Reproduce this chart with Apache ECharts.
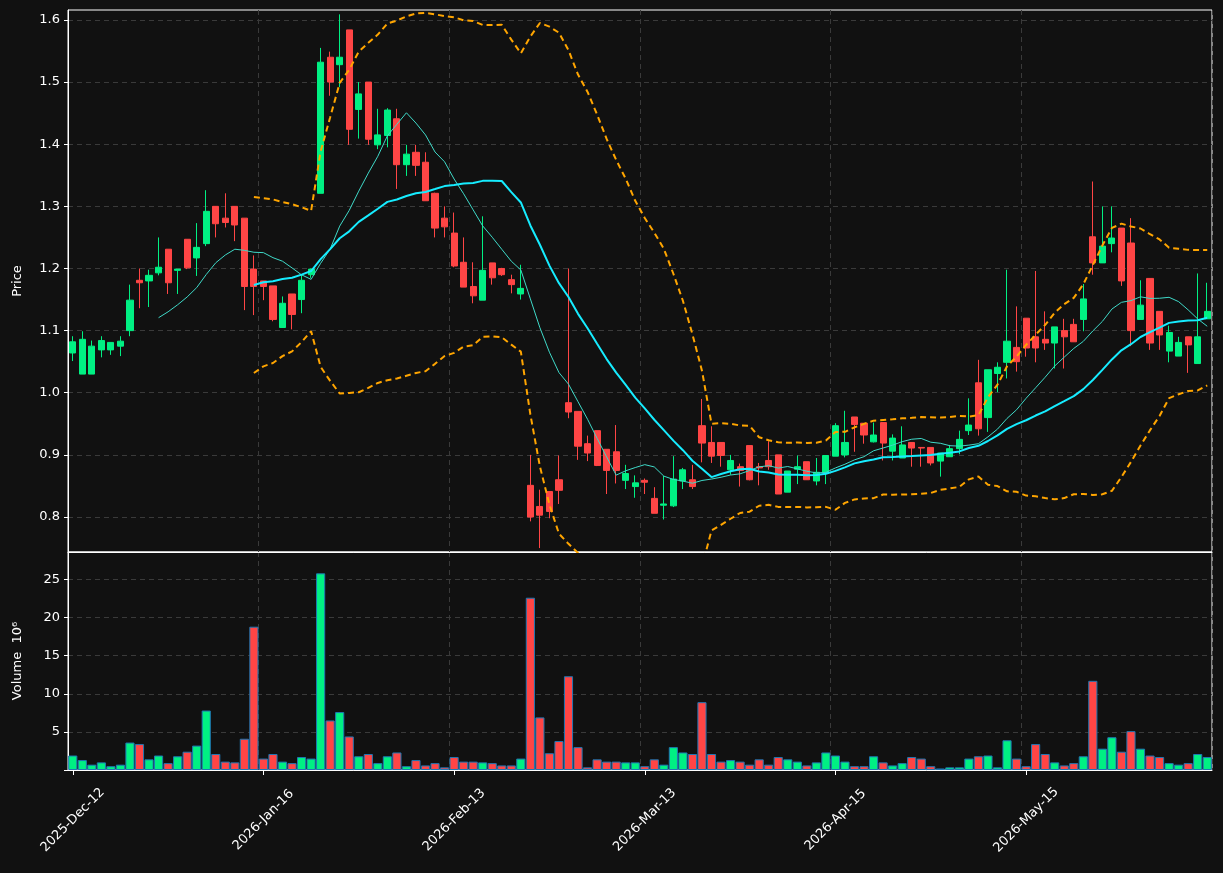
<!DOCTYPE html>
<html>
<head>
<meta charset="utf-8">
<script src="https://cdn.jsdelivr.net/npm/echarts@6/dist/echarts.min.js"></script>
<style>
  html, body { margin: 0; padding: 0; background: #111111; }
  #chart { width: 1223px; height: 873px; }
</style>
</head>
<body>
<div id="chart"></div>
<script>
// tick labels every 20 bars
const tickLabels = ['2025-Dec-12', '2026-Jan-16', '2026-Feb-13', '2026-Mar-13', '2026-Apr-15', '2026-May-15']
const tickStep = 20
const priceTicks = [0.8, 0.9, 1.0, 1.1, 1.2, 1.3, 1.4, 1.5, 1.6]

// OHLC, one row per bar
const opens = [
  1.064, 1.030, 1.030, 1.069, 1.069, 1.075, 1.100, 1.181, 1.180, 1.193,
  1.231, 1.197, 1.247, 1.217, 1.240, 1.300, 1.281, 1.300, 1.281, 1.199,
  1.180, 1.172, 1.105, 1.159, 1.150, 1.190, 1.321, 1.540, 1.528, 1.584,
  1.456, 1.500, 1.399, 1.414, 1.441, 1.367, 1.387, 1.371, 1.321, 1.281,
  1.257, 1.210, 1.171, 1.149, 1.209, 1.200, 1.182, 1.159, 0.851, 0.817,
  0.841, 0.860, 0.984, 0.970, 0.918, 0.939, 0.909, 0.905, 0.859, 0.849,
  0.859, 0.830, 0.819, 0.818, 0.858, 0.860, 0.947, 0.920, 0.920, 0.876,
  0.881, 0.915, 0.881, 0.891, 0.900, 0.840, 0.877, 0.889, 0.858, 0.871,
  0.898, 0.900, 0.961, 0.951, 0.921, 0.952, 0.906, 0.895, 0.920, 0.912,
  0.912, 0.890, 0.897, 0.910, 0.939, 1.016, 0.960, 1.031, 1.049, 1.073,
  1.120, 1.090, 1.086, 1.080, 1.100, 1.110, 1.118, 1.251, 1.209, 1.240,
  1.265, 1.241, 1.118, 1.184, 1.131, 1.067, 1.059, 1.090, 1.047, 1.119
]
const closes = [
  1.082, 1.086, 1.075, 1.084, 1.081, 1.083, 1.149, 1.177, 1.189, 1.202,
  1.177, 1.199, 1.201, 1.234, 1.292, 1.272, 1.274, 1.270, 1.171, 1.171,
  1.171, 1.118, 1.144, 1.126, 1.181, 1.199, 1.532, 1.500, 1.540, 1.424,
  1.481, 1.408, 1.415, 1.455, 1.367, 1.384, 1.366, 1.309, 1.265, 1.267,
  1.204, 1.170, 1.156, 1.197, 1.185, 1.190, 1.174, 1.168, 0.800, 0.803,
  0.809, 0.843, 0.969, 0.914, 0.903, 0.883, 0.875, 0.875, 0.870, 0.855,
  0.856, 0.806, 0.821, 0.861, 0.876, 0.849, 0.919, 0.898, 0.899, 0.891,
  0.875, 0.860, 0.879, 0.881, 0.837, 0.874, 0.881, 0.860, 0.872, 0.899,
  0.947, 0.920, 0.949, 0.932, 0.932, 0.919, 0.927, 0.916, 0.911, 0.911,
  0.887, 0.903, 0.910, 0.925, 0.948, 0.942, 1.037, 1.041, 1.083, 1.050,
  1.072, 1.072, 1.080, 1.106, 1.090, 1.082, 1.151, 1.209, 1.236, 1.249,
  1.180, 1.100, 1.141, 1.080, 1.093, 1.097, 1.081, 1.077, 1.090, 1.131
]
const lows = [
  1.051, 1.030, 1.030, 1.057, 1.061, 1.059, 1.091, 1.136, 1.138, 1.189,
  1.159, 1.159, 1.199, 1.188, 1.236, 1.250, 1.266, 1.244, 1.133, 1.125,
  1.149, 1.115, 1.105, 1.102, 1.128, 1.185, 1.321, 1.478, 1.492, 1.399,
  1.409, 1.399, 1.392, 1.395, 1.328, 1.349, 1.349, 1.309, 1.250, 1.250,
  1.202, 1.170, 1.144, 1.149, 1.174, 1.188, 1.160, 1.150, 0.793, 0.750,
  0.798, 0.821, 0.959, 0.892, 0.890, 0.882, 0.837, 0.854, 0.845, 0.831,
  0.837, 0.806, 0.796, 0.816, 0.845, 0.845, 0.888, 0.887, 0.881, 0.868,
  0.849, 0.859, 0.851, 0.876, 0.837, 0.840, 0.853, 0.860, 0.851, 0.853,
  0.898, 0.896, 0.905, 0.918, 0.920, 0.891, 0.891, 0.895, 0.881, 0.881,
  0.883, 0.865, 0.897, 0.901, 0.932, 0.931, 0.937, 1.001, 1.023, 1.034,
  1.058, 1.049, 1.069, 1.039, 1.039, 1.082, 1.099, 1.190, 1.209, 1.226,
  1.172, 1.075, 1.118, 1.069, 1.069, 1.049, 1.059, 1.032, 1.047, 1.119
]
const highs = [
  1.091, 1.099, 1.084, 1.091, 1.081, 1.091, 1.174, 1.200, 1.198, 1.250,
  1.231, 1.199, 1.247, 1.273, 1.326, 1.300, 1.321, 1.300, 1.281, 1.221,
  1.180, 1.172, 1.155, 1.159, 1.191, 1.200, 1.555, 1.549, 1.609, 1.584,
  1.500, 1.500, 1.457, 1.458, 1.457, 1.399, 1.399, 1.387, 1.322, 1.300,
  1.290, 1.250, 1.210, 1.284, 1.209, 1.201, 1.190, 1.206, 0.900, 0.844,
  0.841, 0.899, 1.200, 0.970, 0.931, 0.939, 0.909, 0.948, 0.884, 0.867,
  0.862, 0.848, 0.866, 0.898, 0.879, 0.884, 0.990, 0.946, 0.920, 0.900,
  0.886, 0.915, 0.887, 0.922, 0.900, 0.874, 0.899, 0.889, 0.895, 0.899,
  0.951, 0.971, 0.961, 0.951, 0.952, 0.952, 0.933, 0.946, 0.920, 0.912,
  0.912, 0.903, 0.916, 0.939, 0.991, 1.053, 1.037, 1.049, 1.198, 1.139,
  1.120, 1.196, 1.131, 1.106, 1.119, 1.119, 1.175, 1.340, 1.300, 1.300,
  1.265, 1.281, 1.181, 1.184, 1.131, 1.108, 1.090, 1.090, 1.192, 1.177
]
// volume in millions
const volumes = [
  1.9, 1.3, 0.7, 1.0, 0.5, 0.7, 3.6, 3.4, 1.4, 1.9,
  0.9, 1.8, 2.4, 3.2, 7.8, 2.1, 1.1, 1.0, 4.1, 18.8,
  1.5, 2.1, 1.1, 0.9, 1.7, 1.5, 25.8, 6.5, 7.6, 4.4,
  1.8, 2.1, 0.9, 1.8, 2.3, 0.5, 1.3, 0.6, 0.9, 0.35,
  1.7, 1.1, 1.1, 1.0, 0.9, 0.6, 0.6, 1.5, 22.6, 6.9,
  2.2, 3.8, 12.3, 3.0, 0.35, 1.4, 1.1, 1.1, 1.0, 1.0,
  0.5, 1.4, 0.7, 3.0, 2.3, 2.1, 8.9, 2.1, 1.1, 1.3,
  1.1, 0.7, 1.4, 0.7, 1.7, 1.4, 1.1, 0.6, 1.0, 2.3,
  1.9, 1.1, 0.5, 0.5, 1.8, 1.0, 0.6, 0.9, 1.7, 1.5,
  0.5, 0.2, 0.35, 0.35, 1.5, 1.8, 1.9, 0.35, 3.9, 1.5,
  0.5, 3.4, 2.1, 1.0, 0.6, 0.9, 1.8, 11.7, 2.8, 4.3,
  2.4, 5.1, 2.8, 1.9, 1.7, 0.9, 0.7, 0.9, 2.1, 1.7
]

const UP = '#00f083'
const DOWN = '#ff4545'

function movingAverage (values, n) {
  return values.map((v, i) => {
    if (i < n - 1) return '-'
    const win = values.slice(i - n + 1, i + 1)
    return win.reduce((a, b) => a + b, 0) / n
  })
}

function bollinger (values, n, k) {
  const upper = []
  const lower = []
  values.forEach((v, i) => {
    if (i < n - 1) { upper.push('-'); lower.push('-'); return }
    const win = values.slice(i - n + 1, i + 1)
    const m = win.reduce((a, b) => a + b, 0) / n
    const sd = Math.sqrt(win.reduce((a, b) => a + (b - m) * (b - m), 0) / n)
    upper.push(m + k * sd)
    lower.push(m - k * sd)
  })
  return { upper, lower }
}

const idx = closes.map((c, i) => i)
const candleData = closes.map((c, i) => [opens[i], c, lows[i], highs[i]])
const volData = volumes.map((v, i) => ({
  value: v,
  itemStyle: { color: closes[i] >= opens[i] ? UP : DOWN },
}))
const ma10 = movingAverage(closes, 10)
const ma20 = movingAverage(closes, 20)
const bands = bollinger(closes, 20, 2)

const showTick = i => i % tickStep === 0
const txt = { color: '#ffffff', fontFamily: 'DejaVu Sans', fontSize: 13 }
const gridLine = { show: true, lineStyle: { color: '#3a3a3a', type: [5, 4], width: 1 } }

const xCommon = {
  type: 'category',
  data: idx,
  boundaryGap: true,
  axisLine: { lineStyle: { color: '#ffffff' } },
  axisTick: { show: false },
  axisLabel: { show: false },
  splitLine: Object.assign({ interval: (i) => showTick(i) }, gridLine),
}

const chart = echarts.init(document.getElementById('chart'))
chart.setOption({
  backgroundColor: '#111111',
  animation: false,
  grid: [
    { left: 68, right: 11, top: 10, height: 542, show: true, borderColor: '#ffffff', borderWidth: 1 },
    { left: 68, right: 11, top: 552, height: 218, show: true, borderColor: '#ffffff', borderWidth: 1 },
  ],
  xAxis: [
    Object.assign({ gridIndex: 0 }, xCommon),
    Object.assign({}, xCommon, {
      gridIndex: 1,
      axisTick: { show: true, alignWithLabel: true, interval: (i) => showTick(i), length: 5, lineStyle: { color: '#ffffff' } },
      axisLabel: Object.assign({}, txt, {
        show: true,
        rotate: 45,
        align: 'center',
        verticalAlign: 'middle',
        margin: 50,
        interval: (i) => showTick(i),
        formatter: (v) => tickLabels[v / tickStep] || '',
      }),
    }),
  ],
  yAxis: [
    {
      gridIndex: 0,
      min: 0.7437,
      max: 1.616,
      name: 'Price',
      nameLocation: 'middle',
      nameGap: 44,
      nameTextStyle: txt,
      axisLine: { show: true, lineStyle: { color: '#ffffff' } },
      axisTick: { show: true, length: 4, customValues: priceTicks },
      axisLabel: Object.assign({}, txt, {
        customValues: priceTicks,
        formatter: v => Number(v).toFixed(1),
      }),
      splitLine: gridLine,
    },
    {
      gridIndex: 1,
      min: 0,
      max: 28.6,
      interval: 5,
      name: 'Volume  10⁶',
      nameLocation: 'middle',
      nameGap: 44,
      nameTextStyle: txt,
      axisLine: { show: true, lineStyle: { color: '#ffffff' } },
      axisTick: { show: true, length: 4 },
      axisLabel: Object.assign({}, txt, {
        formatter: v => (v > 0 && v % 5 === 0 ? String(v) : ''),
        showMaxLabel: false,
      }),
      splitLine: gridLine,
    },
  ],
  series: [
    {
      type: 'candlestick',
      xAxisIndex: 0,
      yAxisIndex: 0,
      data: candleData,
      barWidth: '70%',
      itemStyle: { color: UP, color0: DOWN, borderColor: UP, borderColor0: DOWN, borderWidth: 1 },
      clip: true,
    },
    {
      type: 'line', name: 'MA10', xAxisIndex: 0, yAxisIndex: 0, data: ma10,
      symbol: 'none', lineStyle: { color: '#3fd9c8', width: 1 }, clip: true,
    },
    {
      type: 'line', name: 'MA20', xAxisIndex: 0, yAxisIndex: 0, data: ma20,
      symbol: 'none', lineStyle: { color: '#16ecff', width: 2 }, clip: true,
    },
    {
      type: 'line', name: 'Upper', xAxisIndex: 0, yAxisIndex: 0, data: bands.upper,
      symbol: 'none', lineStyle: { color: '#ffa500', width: 2, type: [6, 4] }, clip: true,
    },
    {
      type: 'line', name: 'Lower', xAxisIndex: 0, yAxisIndex: 0, data: bands.lower,
      symbol: 'none', lineStyle: { color: '#ffa500', width: 2, type: [6, 4] }, clip: true,
    },
    {
      type: 'bar',
      xAxisIndex: 1,
      yAxisIndex: 1,
      data: volData,
      barCategoryGap: '4%',
      itemStyle: { borderColor: '#1f77b4', borderWidth: 1 },
    },
  ],
})
</script>
</body>
</html>
